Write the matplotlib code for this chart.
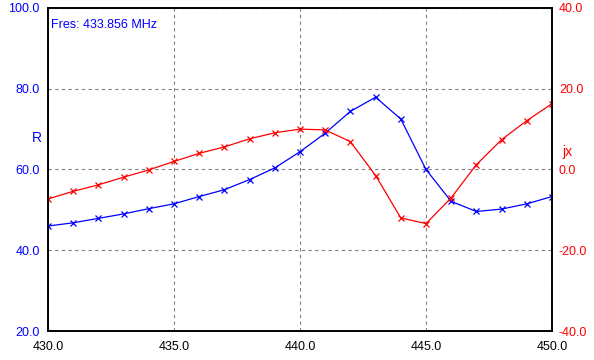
import matplotlib.pyplot as plt

plt.rcParams["font.family"] = ["Liberation Sans", "DejaVu Sans"]
plt.rcParams["font.size"] = 9

# frequency in MHz
freq = [430, 431, 432, 433, 434, 435, 436, 437, 438, 439, 440,
        441, 442, 443, 444, 445, 446, 447, 448, 449, 450]

# resistance R
r_vals = [46.0, 46.8, 47.9, 49.0, 50.3, 51.5, 53.3, 55.0, 57.5, 60.4, 64.4,
          69.0, 74.4, 77.9, 72.5, 60.0, 52.1, 49.6, 50.2, 51.5, 53.3]

# reactance jx
x_vals = [-7.3, -5.4, -3.8, -1.9, -0.1, 2.0, 4.0, 5.6, 7.6, 9.1, 10.0,
          9.8, 6.9, -1.5, -12.0, -13.4, -7.0, 1.2, 7.4, 12.1, 16.3]

x_ticks = [430, 435, 440, 445, 450]
r_ticks = [20, 40, 60, 80, 100]
jx_ticks = [-40, -20, 0, 20, 40]

fig = plt.figure(figsize=(5.94, 3.6), dpi=100)
ax = fig.add_axes([48 / 594, 1 - 331 / 360, 504 / 594, 323 / 360])
ax2 = ax.twinx()

ax.plot(freq, r_vals, color="blue", marker="x", markersize=5, lw=0.9, mew=0.9)
ax2.plot(freq, x_vals, color="red", marker="x", markersize=5, lw=0.9, mew=0.9)

ax.set_xlim(430, 450)
ax.set_ylim(20, 100)
ax2.set_ylim(-40, 40)

ax.set_xticks(x_ticks)
ax.set_xticklabels([f"{t:.1f}" for t in x_ticks])
ax.set_yticks(r_ticks)
ax.set_yticklabels([f"{t:.1f}" for t in r_ticks], color="blue")
ax2.set_yticks(jx_ticks)
ax2.set_yticklabels([f"{t:.1f}" for t in jx_ticks], color="red")

ax.tick_params(axis="x", length=0, pad=7)
ax.tick_params(axis="y", length=0, pad=6)
ax2.tick_params(axis="y", length=0, pad=5)

ax.grid(True, color="gray", linestyle=(0, (3, 3)), lw=0.8)

ax.set_ylabel("R", color="blue", rotation=0, fontsize=10)
ax.yaxis.set_label_coords(-0.022, 0.576)
ax2.set_ylabel("jx", color="red", rotation=0, fontsize=10)
ax2.yaxis.set_label_coords(1.03, 0.576)

for a in (ax, ax2):
    for s in a.spines.values():
        s.set_color("black")
        s.set_linewidth(1.2)

ax.text(0.006, 0.965, "Fres: 433.856 MHz", transform=ax.transAxes,
        color="blue", va="top", ha="left", fontsize=9)

fig.savefig("out.png", dpi=100)
